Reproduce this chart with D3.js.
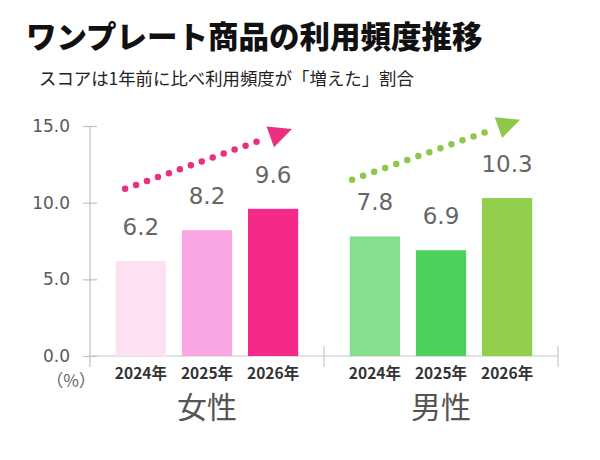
<!DOCTYPE html>
<html><head><meta charset="utf-8">
<script src="https://cdn.jsdelivr.net/npm/d3@7"></script>
<style>html,body{margin:0;padding:0;background:#fff;}svg{display:block;}</style>
</head><body>
<svg id="c" width="600" height="460"></svg>
<script>
const title = "ワンプレート商品の利用頻度推移";
const subtitle = "スコアは1年前に比べ利用頻度が「増えた」割合";
const groups = ["女性", "男性"];
const years = ["2024年", "2025年", "2026年"];
const femaleValues = [6.2, 8.2, 9.6];
const maleValues = [7.8, 6.9, 10.3];
const yTicks = [0, 5, 10, 15];
const femaleColors = ["#fde1f2", "#f9a6e3", "#f52a88"];
const maleColors = ["#86df8f", "#4cd15d", "#92cf4a"];
const arrowColors = ["#e8307f", "#8dc84b"];
// trend arrows: [start fraction of group width, start value], [tip fraction, tip value]
const arrowFrom = [[0.150, 10.9], [0.120, 11.5]];
const arrowTo = [[0.863, 14.8], [0.838, 15.4]];

const seriesValues = [femaleValues, maleValues];
const seriesColors = [femaleColors, maleColors];

const svg = d3.select("#c");
const CJK = "'Noto Sans CJK JP','Noto Sans',sans-serif";
const NUM = "'DejaVu Sans',Verdana,sans-serif";

const x0 = d3.scaleBand().domain(groups).range([90, 558]).padding(0);
const x1 = d3.scaleBand().domain(years).range([0, x0.bandwidth()])
  .paddingInner(0.24).paddingOuter(0.39);
const y = d3.scaleLinear().domain([0, 15]).range([356, 126]);

// title
svg.append("text").attr("x", 26).attr("y", 35).attr("dominant-baseline", "central")
  .style("font-family", CJK).style("font-weight", 900).style("font-size", "30.5px")
  .attr("fill", "#111").text(title);
svg.append("text").attr("x", 39).attr("y", 77).attr("dominant-baseline", "central")
  .style("font-family", CJK).style("font-weight", 400).style("font-size", "17.4px")
  .attr("fill", "#222").text(subtitle);

// y axis
const yAxis = svg.append("g").attr("transform", "translate(90,0)")
  .call(d3.axisLeft(y).tickValues(yTicks).tickFormat(d3.format(".1f")).tickSize(7).tickPadding(13));
yAxis.select(".domain").remove();
yAxis.selectAll(".tick line").attr("x2", 7).attr("x1", -7).attr("stroke", "#c0c0c0").attr("stroke-width", 1.2);
yAxis.selectAll(".tick text").attr("fill", "#595959").style("font-family", NUM).style("font-size", "17px");
svg.append("line").attr("x1", 90).attr("x2", 90).attr("y1", y(15)).attr("y2", 367)
  .attr("stroke", "#c0c0c0").attr("stroke-width", 1.2);

// x baseline with group separators
svg.append("line").attr("x1", 90).attr("x2", 558).attr("y1", y(0)).attr("y2", y(0))
  .attr("stroke", "#c8c8c8").attr("stroke-width", 1.2);
const seps = [x0(groups[0]) + x0.bandwidth(), x0(groups[1]) + x0.bandwidth()];
svg.selectAll(".sep").data(seps).join("line")
  .attr("x1", d => d).attr("x2", d => d).attr("y1", y(0) - 10).attr("y2", 367)
  .attr("stroke", "#c8c8c8").attr("stroke-width", 1.2);

svg.append("text").attr("x", 71).attr("y", 379).attr("text-anchor", "middle")
  .attr("dominant-baseline", "central").style("font-family", CJK).style("font-size", "17px")
  .attr("fill", "#666").text("（%）");

groups.forEach((g, gi) => {
  const gx = x0(g);
  const gEl = svg.append("g").attr("transform", `translate(${gx},0)`);
  const vals = seriesValues[gi];
  gEl.selectAll("rect").data(vals).join("rect")
    .attr("x", (d, i) => x1(years[i])).attr("width", x1.bandwidth())
    .attr("y", d => y(d)).attr("height", d => y(0) - y(d))
    .attr("fill", (d, i) => seriesColors[gi][i]);
  gEl.selectAll(".val").data(vals).join("text")
    .attr("x", (d, i) => x1(years[i]) + x1.bandwidth() / 2)
    .attr("y", d => y(d) - 26).attr("text-anchor", "middle")
    .style("font-family", NUM).style("font-size", "23px").attr("fill", "#666")
    .text(d => d.toFixed(1));
  gEl.selectAll(".yr").data(years).join("text")
    .attr("x", d => x1(d) + x1.bandwidth() / 2).attr("y", 372)
    .attr("text-anchor", "middle").attr("dominant-baseline", "central")
    .style("font-family", CJK).style("font-weight", 700).style("font-size", "15.5px")
    .attr("fill", "#333").text(d => d);
  gEl.append("text").attr("x", x0.bandwidth() / 2).attr("y", 405)
    .attr("text-anchor", "middle").attr("dominant-baseline", "central")
    .style("font-family", CJK).style("font-size", "30px").attr("fill", "#555").text(g);

  // trend arrow
  const sx = arrowFrom[gi][0] * x0.bandwidth(), sy = y(arrowFrom[gi][1]);
  const tx = arrowTo[gi][0] * x0.bandwidth(), ty = y(arrowTo[gi][1]);
  const dx = tx - sx, dy = ty - sy, len = Math.hypot(dx, dy);
  const ux = dx / len, uy = dy / len, nx = -uy, ny = ux;
  const headLen = 23, headHalf = 11;
  const ex = tx - ux * (headLen + 3), ey = ty - uy * (headLen + 3);
  const lineLen = Math.hypot(ex - sx, ey - sy);
  gEl.append("line").attr("x1", sx).attr("y1", sy).attr("x2", ex).attr("y2", ey)
    .attr("stroke", arrowColors[gi]).attr("stroke-width", 6.5).attr("stroke-linecap", "round")
    .attr("stroke-dasharray", `0 ${lineLen / 13}`);
  const bx = tx - ux * headLen, by = ty - uy * headLen;
  gEl.append("path")
    .attr("d", `M${tx},${ty}L${bx + nx * headHalf},${by + ny * headHalf}L${bx - nx * headHalf},${by - ny * headHalf}Z`)
    .attr("fill", arrowColors[gi]);
});
</script>
</body></html>
